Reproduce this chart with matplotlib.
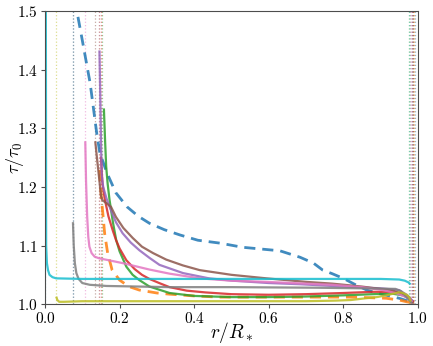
import matplotlib
matplotlib.use("Agg")
import matplotlib.pyplot as plt

plt.rcParams['font.family'] = 'serif'
plt.rcParams['font.serif'] = ['cmr10', 'DejaVu Serif']
plt.rcParams['mathtext.fontset'] = 'cm'
plt.rcParams['axes.formatter.use_mathtext'] = True

# ---- data ----
# each curve: r values, tau/tau0 values, colour index, line style
r_c0 = [0.074, 0.086, 0.10, 0.121, 0.139, 0.147, 0.166, 0.19, 0.22, 0.25, 0.28, 0.32, 0.362, 0.41,
        0.47, 0.53, 0.58, 0.63, 0.684, 0.72, 0.745, 0.77, 0.80, 0.83, 0.863, 0.89, 0.917, 0.95, 0.975, 0.99]
t_c0 = [1.56, 1.498, 1.45, 1.377, 1.29, 1.258, 1.224, 1.19, 1.166, 1.15, 1.138, 1.127, 1.118, 1.109,
        1.104, 1.097, 1.094, 1.091, 1.080, 1.070, 1.058, 1.052, 1.044, 1.034, 1.024, 1.019, 1.015, 1.010, 1.005, 1.002]

r_c1 = [0.146, 0.149, 0.152, 0.155, 0.16, 0.168, 0.18, 0.2, 0.225, 0.253, 0.3, 0.334, 0.4, 0.468,
        0.6, 0.7, 0.816, 0.87, 0.915, 0.95, 0.97, 0.988]
t_c1 = [1.229, 1.20, 1.175, 1.155, 1.12, 1.087, 1.058, 1.041, 1.030, 1.024, 1.019, 1.017, 1.014, 1.012,
        1.012, 1.012, 1.012, 1.011, 1.010, 1.007, 1.004, 1.002]

r_c2 = [0.158, 0.161, 0.164, 0.168, 0.173, 0.182, 0.191, 0.2, 0.218, 0.235, 0.253, 0.28, 0.334, 0.4,
        0.5, 0.6, 0.7, 0.8, 0.88, 0.93, 0.96, 0.975, 0.986]
t_c2 = [1.332, 1.28, 1.235, 1.205, 1.178, 1.14, 1.109, 1.09, 1.064, 1.05, 1.041, 1.03, 1.019, 1.014,
        1.012, 1.012, 1.013, 1.015, 1.017, 1.018, 1.015, 1.01, 1.004]

r_c3 = [0.150, 0.154, 0.16, 0.17, 0.182, 0.19, 0.2, 0.218, 0.24, 0.26, 0.28, 0.31, 0.334, 0.38, 0.43,
        0.5, 0.6, 0.7, 0.8, 0.88, 0.93, 0.96, 0.975, 0.987]
t_c3 = [1.25, 1.206, 1.18, 1.15, 1.125, 1.11, 1.095, 1.075, 1.06, 1.05, 1.043, 1.035, 1.029, 1.023, 1.02,
        1.017, 1.016, 1.017, 1.019, 1.021, 1.021, 1.018, 1.012, 1.004]

r_c4 = [0.146, 0.148, 0.150, 0.152, 0.156, 0.165, 0.175, 0.19, 0.208, 0.23, 0.253, 0.28, 0.307, 0.37,
        0.44, 0.503, 0.6, 0.683, 0.8, 0.9, 0.95, 0.97, 0.985]
t_c4 = [1.431, 1.36, 1.28, 1.22, 1.20, 1.18, 1.163, 1.14, 1.121, 1.105, 1.092, 1.079, 1.067, 1.053,
        1.044, 1.04, 1.036, 1.034, 1.030, 1.027, 1.024, 1.016, 1.006]

r_c5 = [0.135, 0.140, 0.146, 0.150, 0.153, 0.165, 0.177, 0.19, 0.21, 0.235, 0.26, 0.29, 0.325, 0.37,
        0.415, 0.5, 0.594, 0.7, 0.77, 0.85, 0.933, 0.96, 0.975, 0.984]
t_c5 = [1.276, 1.245, 1.21, 1.185, 1.178, 1.172, 1.166, 1.149, 1.13, 1.113, 1.098, 1.087, 1.076, 1.066,
        1.058, 1.05, 1.044, 1.038, 1.035, 1.030, 1.023, 1.017, 1.01, 1.003]

r_c6 = [0.108, 0.110, 0.113, 0.116, 0.119, 0.125, 0.133, 0.146, 0.17, 0.208, 0.28, 0.334, 0.415, 0.5,
        0.594, 0.7, 0.77, 0.85, 0.905, 0.94, 0.965, 0.977, 0.983]
t_c6 = [1.276, 1.21, 1.15, 1.115, 1.098, 1.087, 1.081, 1.078, 1.075, 1.07, 1.059, 1.052, 1.044, 1.040,
        1.038, 1.035, 1.033, 1.029, 1.024, 1.019, 1.013, 1.009, 1.005]

r_c7 = [0.075, 0.077, 0.080, 0.084, 0.09, 0.1, 0.12, 0.165, 0.25, 0.334, 0.5, 0.728, 0.85, 0.94,
        0.955, 0.97, 0.982]
t_c7 = [1.138, 1.10, 1.07, 1.053, 1.043, 1.036, 1.033, 1.031, 1.030, 1.029, 1.029, 1.028, 1.027, 1.026,
        1.022, 1.012, 1.003]

r_c8 = [0.031, 0.033, 0.038, 0.05, 0.1, 0.3, 0.5, 0.7, 0.78, 0.82, 0.86, 0.89, 0.915, 0.935, 0.95,
        0.96, 0.97, 0.977, 0.98]
t_c8 = [1.011, 1.007, 1.004, 1.004, 1.005, 1.005, 1.005, 1.005, 1.006, 1.007, 1.010, 1.012, 1.015,
        1.018, 1.020, 1.019, 1.016, 1.012, 1.006]

r_c9 = [0.002, 0.003, 0.005, 0.008, 0.012, 0.02, 0.03, 0.1, 0.3, 0.6, 0.9, 0.95, 0.965, 0.975, 0.978]
t_c9 = [1.6, 1.10, 1.07, 1.058, 1.05, 1.046, 1.044, 1.043, 1.043, 1.043, 1.043, 1.042, 1.040, 1.037, 1.035]

curves = [(r_c0, t_c0, '--'), (r_c1, t_c1, '--'), (r_c2, t_c2, '-'), (r_c3, t_c3, '-'),
          (r_c4, t_c4, '-'), (r_c5, t_c5, '-'), (r_c6, t_c6, '-'), (r_c7, t_c7, '-'),
          (r_c8, t_c8, '-'), (r_c9, t_c9, '-')]

# inner / outer boundaries (dotted markers)
r_in = [0.074, 0.146, 0.153, 0.150, 0.144, 0.133, 0.107, 0.075, 0.030, 0.001]
r_out = [0.993, 0.990, 0.988, 0.986, 0.985, 0.983, 0.981, 0.979, 0.977, 0.975]

fig = plt.figure(figsize=(4.33, 3.46), dpi=100)
ax = fig.add_axes([0.104, 0.121, 0.861, 0.847])

for i in range(len(curves)):
    col = 'C%d' % i
    ax.axvline(r_in[i], color=col, ls=':', lw=0.9, alpha=0.5)
    ax.axvline(r_out[i], color=col, ls=':', lw=0.9, alpha=0.5)

for i, (r, t, ls) in enumerate(curves):
    col = 'C%d' % i
    if ls == '--':
        ax.plot(r, t, color=col, ls=ls, lw=2.0, dashes=(4, 2.5), alpha=0.85)
    else:
        ax.plot(r, t, color=col, ls=ls, lw=1.6, alpha=0.85)

ax.set_xlim(0, 1)
ax.set_ylim(1.0, 1.5)
ax.set_xticks([0.0, 0.2, 0.4, 0.6, 0.8, 1.0])
ax.set_yticks([1.0, 1.1, 1.2, 1.3, 1.4, 1.5])
ax.tick_params(labelsize=11, length=3, color='0.3', pad=2)
for s in ax.spines.values():
    s.set_color('0.3')
ax.set_xlabel(r'$r/R_*$', fontsize=14)
ax.set_ylabel(r'$\tau/\tau_0$', fontsize=13)
ax.xaxis.set_label_coords(0.5, -0.055)
ax.yaxis.set_label_coords(-0.05, 0.5)

fig.savefig('out.png', dpi=100)
